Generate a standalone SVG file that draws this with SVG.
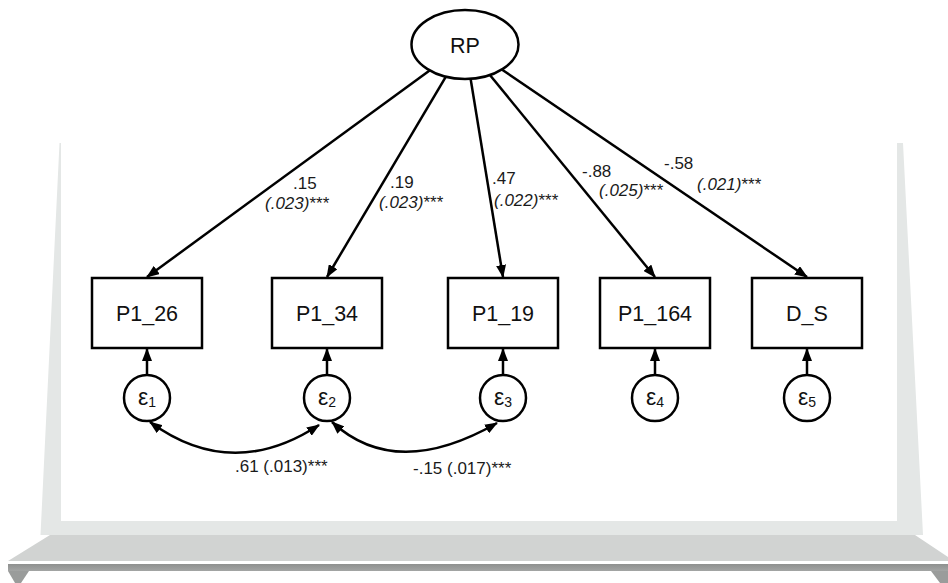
<svg xmlns="http://www.w3.org/2000/svg" width="948" height="583" viewBox="0 0 948 583">
  <defs>
    <style>
      .frame { fill: #e4e7e6; }
      .base { fill: #d1d3d2; }
      .bar { fill: url(#barGrad); }
      .leg { fill: #9a9c9b; }
      .node { fill: #ffffff; stroke: #000000; stroke-width: 2.5; }
      .path { fill: none; stroke: #000000; stroke-width: 2.5; }
      .lbl { font-family: "Liberation Sans", Arial, sans-serif; font-size: 21.5px; fill: #111111; text-anchor: middle; }
      .eps { font-family: "Liberation Sans", Arial, sans-serif; font-size: 23px; fill: #111111; text-anchor: middle; }
      .sub { font-size: 14px; }
      .coef { font-family: "Liberation Sans", Arial, sans-serif; font-size: 17px; fill: #1a1a1a; }
      .se { font-style: italic; }
      .star { font-style: normal; }
    </style>
    <linearGradient id="barGrad" x1="0" y1="0" x2="0" y2="1">
      <stop offset="0" stop-color="#8e908f"/>
      <stop offset="1" stop-color="#a3a5a4"/>
    </linearGradient>
    <marker id="arrow" viewBox="0 0 13 10" refX="12" refY="5" markerWidth="13" markerHeight="10" markerUnits="userSpaceOnUse" orient="auto-start-reverse">
      <path d="M0,0 L13,5 L0,10 z" fill="#000000"/>
    </marker>
  </defs>

  <!-- display stand behind the model -->
  <g id="stand">
    <polygon class="frame" points="59.5,143 61,143 61,521 897,521 897,143 903,143 923,535 40.5,535"/>
    <polygon class="base" points="50,535 915,535 948,557 948,561 8,561"/>
    <rect class="bar" x="8" y="564" width="940" height="7"/>
    <polygon class="leg" points="8,571 29,571 21,583 15,583"/>
    <polygon class="leg" points="931,571 948,571 948,583 940,583"/>
  </g>

  <!-- paths and covariances -->
  <g id="connectors">
    <line class="path" x1="429.6" y1="70.4" x2="147" y2="277" marker-end="url(#arrow)"/>
    <line class="path" x1="445.9" y1="76.7" x2="327" y2="277" marker-end="url(#arrow)"/>
    <line class="path" x1="470.6" y1="78.8" x2="503" y2="277" marker-end="url(#arrow)"/>
    <line class="path" x1="489.9" y1="75.0" x2="655" y2="277" marker-end="url(#arrow)"/>
    <line class="path" x1="501.8" y1="69.5" x2="807" y2="277" marker-end="url(#arrow)"/>

    <line class="path" x1="147" y1="375" x2="147" y2="349" marker-end="url(#arrow)"/>
    <line class="path" x1="327" y1="375" x2="327" y2="349" marker-end="url(#arrow)"/>
    <line class="path" x1="503" y1="375" x2="503" y2="349" marker-end="url(#arrow)"/>
    <line class="path" x1="655" y1="375" x2="655" y2="349" marker-end="url(#arrow)"/>
    <line class="path" x1="807" y1="375" x2="807" y2="349" marker-end="url(#arrow)"/>

    <path class="path" d="M150,422 Q232,482 319,425" marker-start="url(#arrow)" marker-end="url(#arrow)"/>
    <path class="path" d="M332,422 Q396,481 497,423" marker-start="url(#arrow)" marker-end="url(#arrow)"/>

    <text class="coef" x="293" y="189">.15</text>
    <text class="coef se" x="265" y="209">(.023)<tspan class="star">***</tspan></text>
    <text class="coef" x="390" y="188">.19</text>
    <text class="coef se" x="379" y="208">(.023)<tspan class="star">***</tspan></text>
    <text class="coef" x="492" y="184">.47</text>
    <text class="coef se" x="494" y="205.5">(.022)<tspan class="star">***</tspan></text>
    <text class="coef" x="582" y="177">-.88</text>
    <text class="coef se" x="599" y="196">(.025)<tspan class="star">***</tspan></text>
    <text class="coef" x="664" y="169">-.58</text>
    <text class="coef se" x="697" y="190">(.021)<tspan class="star">***</tspan></text>
    <text class="coef" x="235" y="472">.61 (.013)***</text>
    <text class="coef" x="413" y="474">-.15 (.017)***</text>
  </g>

  <!-- latent factor -->
  <g id="RP">
    <ellipse class="node" cx="465" cy="44.5" rx="53.5" ry="34.5"/>
    <text class="lbl" x="465" y="52.5">RP</text>
  </g>

  <!-- observed indicators -->
  <g id="P1_26">
    <rect class="node" x="92" y="278" width="110" height="70"/>
    <text class="lbl" x="147" y="321">P1_26</text>
  </g>
  <g id="P1_34">
    <rect class="node" x="272" y="278" width="110" height="70"/>
    <text class="lbl" x="327" y="321">P1_34</text>
  </g>
  <g id="P1_19">
    <rect class="node" x="448" y="278" width="110" height="70"/>
    <text class="lbl" x="503" y="321">P1_19</text>
  </g>
  <g id="P1_164">
    <rect class="node" x="600" y="278" width="110" height="70"/>
    <text class="lbl" x="655" y="321">P1_164</text>
  </g>
  <g id="D_S">
    <rect class="node" x="752" y="278" width="110" height="70"/>
    <text class="lbl" x="807" y="321">D_S</text>
  </g>

  <!-- error terms -->
  <g id="e1">
    <circle class="node" cx="147" cy="398" r="23"/>
    <text class="eps" x="147" y="405">ε<tspan class="sub" dy="2">1</tspan></text>
  </g>
  <g id="e2">
    <circle class="node" cx="327" cy="398" r="23"/>
    <text class="eps" x="327" y="405">ε<tspan class="sub" dy="2">2</tspan></text>
  </g>
  <g id="e3">
    <circle class="node" cx="503" cy="398" r="23"/>
    <text class="eps" x="503" y="405">ε<tspan class="sub" dy="2">3</tspan></text>
  </g>
  <g id="e4">
    <circle class="node" cx="655" cy="398" r="23"/>
    <text class="eps" x="655" y="405">ε<tspan class="sub" dy="2">4</tspan></text>
  </g>
  <g id="e5">
    <circle class="node" cx="807" cy="398" r="23"/>
    <text class="eps" x="807" y="405">ε<tspan class="sub" dy="2">5</tspan></text>
  </g>
</svg>
